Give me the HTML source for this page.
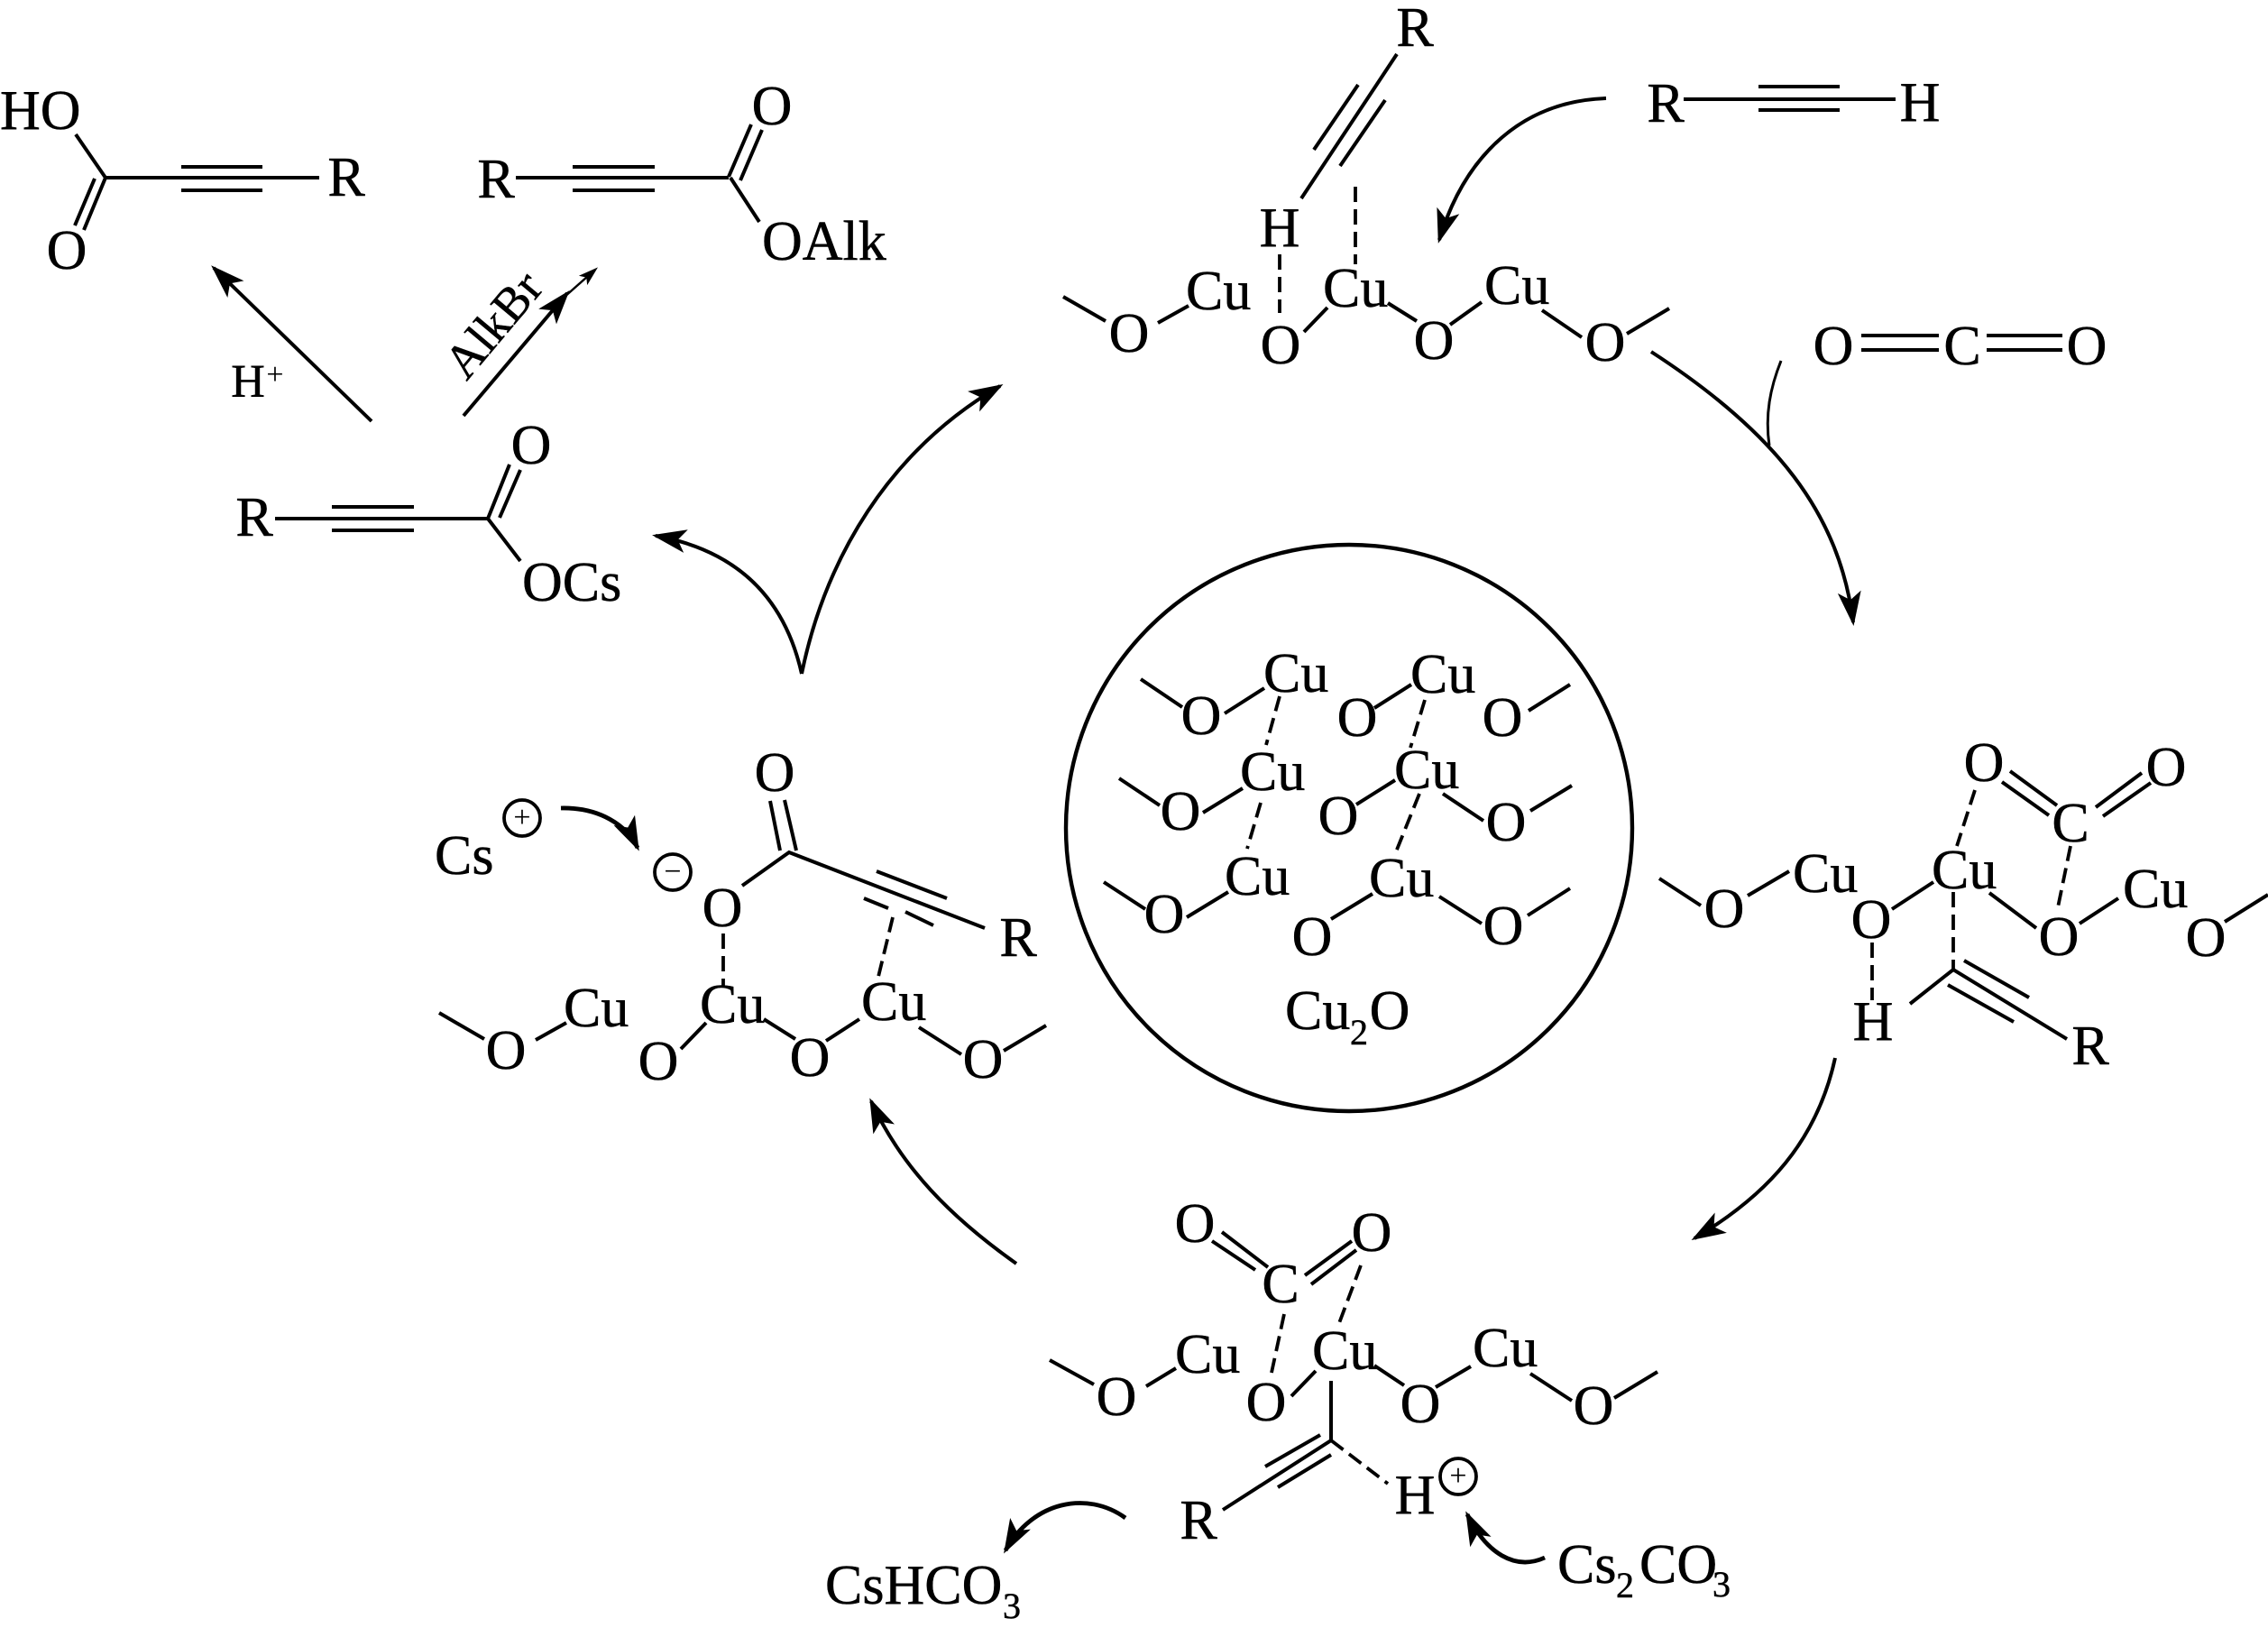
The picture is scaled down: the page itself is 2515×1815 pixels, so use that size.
<!DOCTYPE html>
<html><head><meta charset="utf-8"><title>Cu2O catalytic cycle</title>
<style>
html,body{margin:0;padding:0;background:#fff}
svg{display:block}
text{font-family:"Liberation Serif",serif;font-size:62px;fill:#000;stroke:#000;stroke-width:.5}
.m{text-anchor:middle}
.s{font-size:40px}
.p{font-size:34px;stroke-width:0}
.b{fill:none;stroke:#000;stroke-width:4}
.d{fill:none;stroke:#000;stroke-width:3.8;stroke-dasharray:17 8}
.a{fill:none;stroke:#000;stroke-width:4}
</style></head><body>
<svg width="2515" height="1815" viewBox="0 0 2515 1815" xmlns="http://www.w3.org/2000/svg">
<defs>
<marker id="h" markerUnits="userSpaceOnUse" markerWidth="42" markerHeight="28" refX="34" refY="14" orient="auto"><path d="M38 14L0 1L9 14L0 27Z"/></marker>
<marker id="t" markerUnits="userSpaceOnUse" markerWidth="24" markerHeight="16" refX="18" refY="8" orient="auto"><path d="M22 8L0 1L5 8L0 15Z"/></marker>
</defs>
<rect width="2515" height="1815" fill="#fff"/>

<!-- solid bonds -->
<path class="b" d="
M84 149L117 197M117 197H354M201 185H291M201 211H291M117 197L93 255M105 198L83 250
M572 197H808M635 185H726M635 211H726M808 196L833 138M821 200L845 144M810 197L842 246
M305 575H541M368 562H459M368 588H459M541 575L565 515M554 574L577 521M541 575L577 622
M1549 60L1443 220M1506 94L1457 166M1536 111L1486 184
M1179 329L1226 356M1284 358L1318 339M1446 368L1472 341M1539 336L1571 356M1608 360L1643 335M1710 344L1754 374M1804 370L1851 342
M1867 110H2102M1950 96H2040M1950 122H2040
M2064 372H2150M2064 388H2150M2203 372H2287M2203 388H2287
M1265 753L1311 784M1358 791L1402 763M1524 785L1565 759M1695 788L1741 759
M1241 863L1286 893M1334 901L1378 874M1504 892L1547 865M1600 880L1645 910M1697 899L1743 871
M1224 978L1270 1008M1316 1017L1362 989M1476 1019L1522 991M1596 994L1643 1024M1694 1015L1741 985
M1840 974L1886 1004M1938 993L1984 966M2098 1008L2144 978M2206 990L2258 1029M2306 1024L2349 996M2467 1022L2515 992
M2229 855L2281 893M2220 867L2272 904M2324 895L2375 857M2332 905L2385 868
M2118 1113L2166 1075L2292 1152M2178 1065L2250 1106M2160 1092L2233 1133
M1355 1366L1406 1405M1344 1376L1392 1408M1447 1414L1499 1376M1454 1424L1504 1386
M1164 1508L1213 1535M1271 1537L1304 1517M1432 1548L1459 1520M1524 1514L1557 1536M1592 1538L1631 1515M1697 1523L1743 1553M1790 1550L1838 1521
M1476 1531V1597L1356 1674M1464 1591L1403 1626M1476 1613L1417 1649
M854 888L865 943M870 887L883 943M823 982L875 945L1092 1029M972 966L1050 996M958 996L985 1007M1004 1011L1035 1026
M487 1123L537 1152M594 1153L628 1134M755 1163L783 1134M847 1130L882 1152M916 1154L953 1130M1019 1139L1066 1169M1113 1165L1160 1137
"/>

<!-- dashed bonds -->
<path class="d" d="
M1503 207V293M1419 282V347
M1419 772L1404 826M1580 776L1564 829M1398 890L1383 941M1574 880L1547 947
M2190 876L2170 938M2296 938L2282 1006M2166 989V1075M2076 1045V1109
M1509 1403L1485 1467M1424 1457L1410 1522M1476 1597L1539 1645
M990 1017L974 1083M802 1035V1093
"/>

<!-- circle -->
<circle cx="1496" cy="918" r="314" fill="none" stroke="#000" stroke-width="4.4"/>
<circle cx="1617" cy="1637" r="20" fill="none" stroke="#000" stroke-width="3.8"/>
<circle cx="579" cy="907" r="20" fill="none" stroke="#000" stroke-width="3.8"/>
<circle cx="746" cy="967" r="20" fill="none" stroke="#000" stroke-width="3.8"/>
<text class="m p" x="1617" y="1647">+</text>
<text class="m p" x="579" y="917">+</text>
<text class="m p" x="746" y="977">&#8722;</text>

<!-- arrows -->
<path class="a" d="M412 467L237 297" marker-end="url(#h)"/>
<path class="a" d="M514 461L629 325" marker-end="url(#h)"/>
<path class="a" style="stroke-width:2.4" d="M625 330L660 299" marker-end="url(#t)"/>
<path class="a" d="M889 747Q860 618 727 594" marker-end="url(#h)"/>
<path class="a" d="M889 747C915 620 985 500 1109 428" marker-end="url(#h)"/>
<path class="a" d="M1781 109C1690 112 1625 170 1596 266" marker-end="url(#h)"/>
<path class="a" d="M1831 390C1970 480 2040 570 2055 690" marker-end="url(#h)"/>
<path class="a" style="stroke-width:3" d="M1975 400C1963 430 1957 460 1962 494"/>
<path class="a" d="M2035 1173C2015 1265 1960 1325 1879 1373" marker-end="url(#h)"/>
<path class="a" d="M1127 1401C1055 1350 1000 1295 966 1221" marker-end="url(#h)"/>
<path class="a" style="stroke-width:4.8" d="M1713 1727C1680 1742 1648 1722 1627 1679" marker-end="url(#h)"/>
<path class="a" style="stroke-width:4.8" d="M1248 1683C1205 1652 1145 1665 1115 1719" marker-end="url(#h)"/>
<path class="a" style="stroke-width:4.8" d="M622 896C665 895 695 915 707 940" marker-end="url(#h)"/>

<!-- top-left products -->
<text x="0" y="143">HO</text>
<text class="m" x="384" y="217">R</text>
<text class="m" x="74" y="298">O</text>
<text class="m" x="550" y="219">R</text>
<text class="m" x="856" y="138">O</text>
<text x="845" y="288">OAlk</text>
<text class="m" x="275" y="440" style="font-size:52px">H</text>
<text class="m" x="305" y="426" style="font-size:34px;stroke-width:0">+</text>
<text class="m" transform="translate(547 360) rotate(-50)" y="18" style="font-size:54px">AlkBr</text>
<text class="m" x="282" y="594">R</text>
<text class="m" x="589" y="514">O</text>
<text x="579" y="666">OCs</text>

<!-- top complex -->
<text class="m" x="1569" y="51">R</text>
<text class="m" x="1419" y="273">H</text>
<text x="1315" y="343">Cu</text>
<text class="m" x="1252" y="390">O</text>
<text class="m" x="1420" y="403">O</text>
<text x="1467" y="340">Cu</text>
<text class="m" x="1590" y="398">O</text>
<text x="1646" y="337">Cu</text>
<text class="m" x="1780" y="400">O</text>
<text class="m" x="1847" y="135">R</text>
<text class="m" x="2129" y="134">H</text>
<text class="m" x="2033" y="404">O</text>
<text class="m" x="2176" y="404">C</text>
<text class="m" x="2314" y="404">O</text>

<!-- center -->
<text class="m" x="1332" y="814">O</text>
<text x="1401" y="767">Cu</text>
<text class="m" x="1505" y="816">O</text>
<text x="1564" y="768">Cu</text>
<text class="m" x="1666" y="816">O</text>
<text class="m" x="1309" y="920">O</text>
<text x="1375" y="876">Cu</text>
<text class="m" x="1484" y="925">O</text>
<text x="1546" y="874">Cu</text>
<text class="m" x="1670" y="932">O</text>
<text class="m" x="1291" y="1034">O</text>
<text x="1358" y="992">Cu</text>
<text class="m" x="1455" y="1059">O</text>
<text x="1518" y="994">Cu</text>
<text class="m" x="1667" y="1047">O</text>
<text x="1425" y="1141">Cu</text>
<text class="s" x="1497" y="1158">2</text>
<text class="m" x="1541" y="1141">O</text>

<!-- right complex -->
<text class="m" x="1912" y="1028">O</text>
<text x="1988" y="989">Cu</text>
<text class="m" x="2075" y="1040">O</text>
<text x="2142" y="985">Cu</text>
<text class="m" x="2200" y="866">O</text>
<text class="m" x="2402" y="871">O</text>
<text class="m" x="2296" y="933">C</text>
<text class="m" x="2283" y="1059">O</text>
<text x="2354" y="1006">Cu</text>
<text class="m" x="2446" y="1060">O</text>
<text class="m" x="2077" y="1153">H</text>
<text class="m" x="2318" y="1180">R</text>

<!-- bottom complex -->
<text class="m" x="1325" y="1377">O</text>
<text class="m" x="1521" y="1387">O</text>
<text class="m" x="1420" y="1444">C</text>
<text class="m" x="1238" y="1569">O</text>
<text x="1303" y="1522">Cu</text>
<text class="m" x="1404" y="1575">O</text>
<text x="1455" y="1518">Cu</text>
<text class="m" x="1575" y="1577">O</text>
<text x="1633" y="1515">Cu</text>
<text class="m" x="1767" y="1579">O</text>
<text class="m" x="1569" y="1678">H</text>
<text class="m" x="1329" y="1706">R</text>
<text x="915" y="1778">CsHCO</text>
<text class="s" x="1112" y="1794">3</text>
<text x="1727" y="1755">Cs</text>
<text class="s" x="1792" y="1771">2</text>
<text x="1818" y="1755">CO</text>
<text class="s" x="1899" y="1770">3</text>

<!-- left complex -->
<text x="482" y="969">Cs</text>
<text class="m" x="859" y="877">O</text>
<text class="m" x="801" y="1027">O</text>
<text class="m" x="1129" y="1060">R</text>
<text class="m" x="561" y="1185">O</text>
<text x="625" y="1138">Cu</text>
<text x="776" y="1134">Cu</text>
<text class="m" x="730" y="1197">O</text>
<text class="m" x="898" y="1193">O</text>
<text x="955" y="1131">Cu</text>
<text class="m" x="1090" y="1195">O</text>
</svg>
</body></html>
